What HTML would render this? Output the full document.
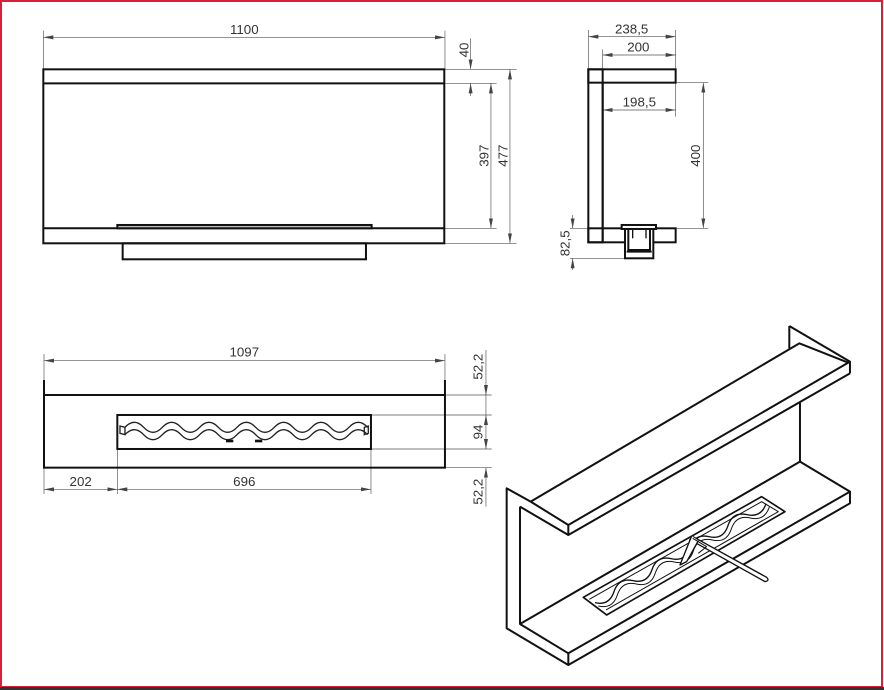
<!DOCTYPE html>
<html><head><meta charset="utf-8"><style>
html,body{margin:0;padding:0;background:#fff}
svg{display:block}
text{font-family:"Liberation Sans",sans-serif;fill:#333}
</style></head><body>
<svg width="884" height="690" viewBox="0 0 884 690" xmlns="http://www.w3.org/2000/svg">
<defs>
<marker id="a" viewBox="0 0 10 4" refX="10" refY="2" markerWidth="15" markerHeight="6" orient="auto-start-reverse" markerUnits="strokeWidth"><path d="M0,0 L10,2 L0,4 z" fill="#444"/></marker>
</defs>
<rect x="0" y="0" width="884" height="690" fill="#fff"/>
<rect x="1" y="1" width="881" height="686" fill="none" stroke="#d9203a" stroke-width="2"/>
<line x1="0" y1="688.5" x2="884" y2="688.5" stroke="#333" stroke-width="3"/>

<!-- Front view top-left -->
<g transform="translate(30,10) scale(0.3333)">
<g stroke="#555" stroke-width="2" fill="none">
<line x1="40" y1="82" x2="1245" y2="82" marker-start="url(#a)" marker-end="url(#a)"/>
<line x1="40" y1="62" x2="40" y2="178"/><line x1="1245" y1="62" x2="1245" y2="178"/>
<line x1="1243" y1="178" x2="1460" y2="178"/><line x1="1243" y1="220" x2="1400" y2="220"/>
<line x1="1243" y1="655" x2="1400" y2="655"/><line x1="1243" y1="700" x2="1460" y2="700"/>
<line x1="1322" y1="85" x2="1322" y2="178" marker-end="url(#a)"/>
<line x1="1322" y1="258" x2="1322" y2="220" marker-end="url(#a)"/>
<line x1="1383" y1="220" x2="1383" y2="655" marker-start="url(#a)" marker-end="url(#a)"/>
<line x1="1440" y1="178" x2="1440" y2="700" marker-start="url(#a)" marker-end="url(#a)"/>
</g>
<g stroke="#111" stroke-width="6" fill="none">
<rect x="40" y="178" width="1203" height="522"/>
<line x1="40" y1="220" x2="1243" y2="220"/><line x1="40" y1="655" x2="1243" y2="655"/>
<rect x="262" y="645" width="763" height="10" fill="#bbb"/>
<rect x="278" y="700" width="730" height="48"/>
</g>
<text x="643" y="72" font-size="40" text-anchor="middle">1100</text>
<text transform="translate(1315,120) rotate(-90)" font-size="40" text-anchor="middle">40</text>
<text transform="translate(1375,437) rotate(-90)" font-size="40" text-anchor="middle">397</text>
<text transform="translate(1432,437) rotate(-90)" font-size="40" text-anchor="middle">477</text>
</g>

<!-- Side view top-right -->
<g transform="translate(550,10) scale(0.3333)">
<g stroke="#555" stroke-width="2" fill="none">
<line x1="115" y1="80" x2="377" y2="80" marker-start="url(#a)" marker-end="url(#a)"/>
<line x1="158" y1="135" x2="377" y2="135" marker-start="url(#a)" marker-end="url(#a)"/>
<line x1="158" y1="300" x2="377" y2="300" marker-start="url(#a)" marker-end="url(#a)"/>
<line x1="115" y1="60" x2="115" y2="178"/><line x1="377" y1="60" x2="377" y2="320"/>
<line x1="158" y1="118" x2="158" y2="178"/><line x1="158" y1="280" x2="158" y2="320"/>
<line x1="377" y1="218" x2="475" y2="218"/><line x1="377" y1="655" x2="475" y2="655"/>
<line x1="460" y1="218" x2="460" y2="655" marker-start="url(#a)" marker-end="url(#a)"/>
<line x1="60" y1="655" x2="115" y2="655"/><line x1="60" y1="745" x2="225" y2="745"/>
<line x1="68" y1="615" x2="68" y2="655" marker-end="url(#a)"/>
<line x1="68" y1="780" x2="68" y2="745" marker-end="url(#a)"/>
</g>
<g stroke="#111" stroke-width="6" fill="none">
<rect x="115" y="178" width="262" height="40"/>
<rect x="115" y="178" width="43" height="519"/>
<rect x="115" y="655" width="262" height="42"/>
<line x1="158" y1="218" x2="158" y2="697"/>
<rect x="225" y="655" width="85" height="90" fill="#fff"/>
<rect x="215" y="645" width="103" height="12" fill="#fff"/>
<path d="M235,657 V720 H300 V657"/>
<line x1="230" y1="725" x2="305" y2="725"/>
</g>
<g stroke="#111" stroke-width="4"><line x1="248" y1="660" x2="248" y2="685"/><line x1="288" y1="660" x2="288" y2="685"/></g>
<text x="245" y="70" font-size="40" text-anchor="middle">238,5</text>
<text x="265" y="125" font-size="40" text-anchor="middle">200</text>
<text x="268" y="290" font-size="40" text-anchor="middle">198,5</text>
<text transform="translate(450,437) rotate(-90)" font-size="40" text-anchor="middle">400</text>
<text transform="translate(58,700) rotate(-90)" font-size="40" text-anchor="middle">82,5</text>
</g>

<!-- Front view bottom-left -->
<g transform="translate(30,340) scale(0.3333)">
<g stroke="#555" stroke-width="2" fill="none">
<line x1="42" y1="62" x2="1245" y2="62" marker-start="url(#a)" marker-end="url(#a)"/>
<line x1="42" y1="42" x2="42" y2="120"/><line x1="1245" y1="42" x2="1245" y2="120"/>
<line x1="1245" y1="165" x2="1385" y2="165"/><line x1="1023" y1="225" x2="1385" y2="225"/>
<line x1="1023" y1="327" x2="1385" y2="327"/><line x1="1245" y1="383" x2="1385" y2="383"/>
<line x1="1368" y1="30" x2="1368" y2="165" marker-end="url(#a)"/>
<line x1="1368" y1="225" x2="1368" y2="327" marker-start="url(#a)" marker-end="url(#a)"/>
<line x1="1368" y1="500" x2="1368" y2="383" marker-end="url(#a)"/>
<line x1="1368" y1="165" x2="1368" y2="225"/>
<line x1="42" y1="448" x2="262" y2="448" marker-start="url(#a)" marker-end="url(#a)"/>
<line x1="262" y1="448" x2="1023" y2="448" marker-start="url(#a)" marker-end="url(#a)"/>
<line x1="42" y1="383" x2="42" y2="462"/><line x1="262" y1="327" x2="262" y2="462"/><line x1="1023" y1="327" x2="1023" y2="462"/>
</g>
<g stroke="#111" stroke-width="6" fill="none">
<line x1="42" y1="120" x2="42" y2="165"/><line x1="1245" y1="120" x2="1245" y2="165"/>
<rect x="42" y="165" width="1203" height="218"/>
<rect x="262" y="225" width="761" height="102"/>
</g>
<g stroke="#222" stroke-width="4" fill="none">
<path d="M285,262 q28,-30 56,0 t56,0 t56,0 t56,0 t56,0 t56,0 t56,0 t56,0 t56,0 t56,0 t56,0 t56,0 t56,0"/>
<path d="M285,284 q28,-30 56,0 t56,0 t56,0 t56,0 t56,0 t56,0 t56,0 t56,0 t56,0 t56,0 t56,0 t56,0 t56,0"/>
<path d="M270,258 L285,262 L285,284 L270,280 Z"/>
<path d="M1015,258 L1003,262 L1003,284 L1015,280 Z"/>
</g>
<rect x="588" y="299" width="22" height="8" fill="#111"/>
<rect x="675" y="299" width="22" height="8" fill="#111"/>
<text x="643" y="50" font-size="40" text-anchor="middle">1097</text>
<text x="152" y="438" font-size="40" text-anchor="middle">202</text>
<text x="643" y="438" font-size="40" text-anchor="middle">696</text>
<text transform="translate(1358,80) rotate(-90)" font-size="40" text-anchor="middle">52,2</text>
<text transform="translate(1358,276) rotate(-90)" font-size="40" text-anchor="middle">94</text>
<text transform="translate(1358,455) rotate(-90)" font-size="40" text-anchor="middle">52,2</text>
</g>

<!-- Isometric bottom-right -->
<g transform="translate(500,320) scale(0.3333)" stroke="#111" stroke-width="6" fill="none" stroke-linejoin="round">
<!-- right end top panel -->
<path d="M868,18 L1050,125 L1050,160"/>
<line x1="868" y1="18" x2="868" y2="85"/>
<!-- top shelf -->
<path d="M898,70 L1045,128 L205,615 L92,545 Z"/>
<path d="M205,615 L205,645 L1050,160"/>
<!-- back wall right edge -->
<line x1="900" y1="248" x2="900" y2="425"/>
<!-- left panel -->
<path d="M92,545 L20,505 L20,925 L205,1035"/>
<path d="M60,560 L60,912"/>
<line x1="60" y1="560" x2="205" y2="645"/>
<!-- bottom shelf -->
<path d="M900,425 L1050,515 L205,1000 L60,912 L900,425"/>
<path d="M205,1000 L205,1035 L1050,550 L1050,515"/>
<!-- burner -->
<path d="M250,832 L785,530 L855,575 L320,885 Z" stroke-width="5"/>
<path d="M268,838 L785,545 L835,575 L318,870" stroke-width="3"/>
<path d="M285,848 q43,10 57,-33 t57,-33 t57,-33 t57,-33 t57,-33 t57,-33 t57,-33 t57,-33 t57,-33" stroke-width="4"/>
<path d="M295,858 q43,10 57,-33 t57,-33 t57,-33 t57,-33 t57,-33 t57,-33 t57,-33 t57,-33 t57,-33" stroke-width="3"/>
<!-- key rod -->
<path d="M575,648 L800,772 Q810,782 795,785 L568,658" stroke-width="4" fill="#fff"/>
<path d="M575,648 L540,735 L560,725 L595,662" stroke-width="4" fill="#fff"/>
<path d="M578,655 L620,680 L595,700" stroke-width="3"/>
</g>
</svg>
</body></html>
